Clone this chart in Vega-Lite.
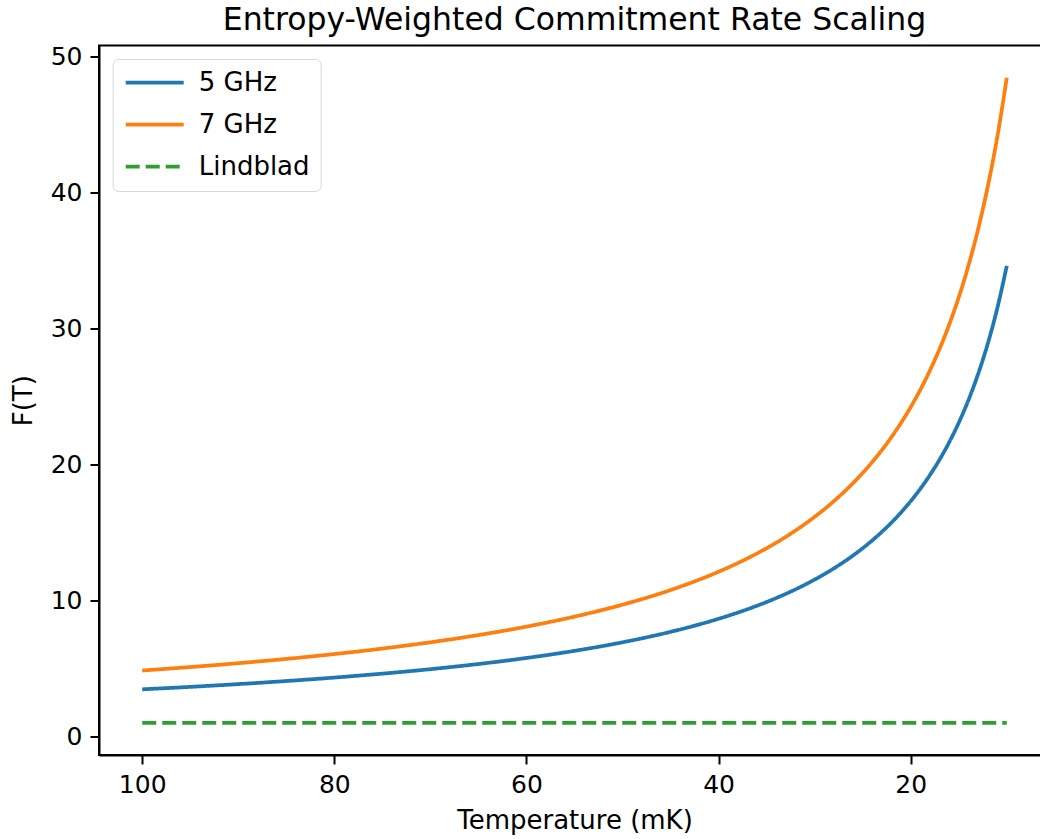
{
  "$schema": "https://vega.github.io/schema/vega-lite/v6.json",
  "autosize": "none",
  "padding": {"left": 99, "top": 45.5, "right": 0, "bottom": 84},
  "width": 951,
  "height": 709.5,
  "background": "white",
  "title": {"text": "Entropy-Weighted Commitment Rate Scaling", "fontSize": 31.5, "fontWeight": "normal", "font": "DejaVu Sans", "color": "black", "offset": 8.5, "anchor": "middle"},
  "config": {
    "view": {"stroke": "black", "strokeWidth": 2},
    "axis": {"grid": false, "domainColor": "black", "domainWidth": 2, "tickColor": "black", "tickWidth": 2, "tickSize": 9, "labelFontSize": 25, "labelFont": "DejaVu Sans", "labelColor": "black", "labelPadding": 8, "titleFontSize": 26, "titleFont": "DejaVu Sans", "titleFontWeight": "normal", "titleColor": "black"}
  },
  "data": {"values": [
    {"T": 100, "F": 3.462, "series": "5 GHz"},
    {"T": 95, "F": 3.644, "series": "5 GHz"},
    {"T": 90, "F": 3.847, "series": "5 GHz"},
    {"T": 85, "F": 4.073, "series": "5 GHz"},
    {"T": 80, "F": 4.327, "series": "5 GHz"},
    {"T": 75, "F": 4.616, "series": "5 GHz"},
    {"T": 70, "F": 4.946, "series": "5 GHz"},
    {"T": 65, "F": 5.326, "series": "5 GHz"},
    {"T": 60, "F": 5.770, "series": "5 GHz"},
    {"T": 55, "F": 6.294, "series": "5 GHz"},
    {"T": 50, "F": 6.924, "series": "5 GHz"},
    {"T": 45, "F": 7.693, "series": "5 GHz"},
    {"T": 40, "F": 8.655, "series": "5 GHz"},
    {"T": 37.5, "F": 9.232, "series": "5 GHz"},
    {"T": 35, "F": 9.891, "series": "5 GHz"},
    {"T": 32.5, "F": 10.652, "series": "5 GHz"},
    {"T": 30, "F": 11.540, "series": "5 GHz"},
    {"T": 28, "F": 12.364, "series": "5 GHz"},
    {"T": 26, "F": 13.315, "series": "5 GHz"},
    {"T": 24, "F": 14.425, "series": "5 GHz"},
    {"T": 22, "F": 15.736, "series": "5 GHz"},
    {"T": 20, "F": 17.310, "series": "5 GHz"},
    {"T": 19, "F": 18.221, "series": "5 GHz"},
    {"T": 18, "F": 19.233, "series": "5 GHz"},
    {"T": 17, "F": 20.364, "series": "5 GHz"},
    {"T": 16, "F": 21.637, "series": "5 GHz"},
    {"T": 15, "F": 23.079, "series": "5 GHz"},
    {"T": 14, "F": 24.728, "series": "5 GHz"},
    {"T": 13, "F": 26.630, "series": "5 GHz"},
    {"T": 12, "F": 28.849, "series": "5 GHz"},
    {"T": 11, "F": 31.472, "series": "5 GHz"},
    {"T": 10, "F": 34.619, "series": "5 GHz"},
    {"T": 100, "F": 4.847, "series": "7 GHz"},
    {"T": 95, "F": 5.102, "series": "7 GHz"},
    {"T": 90, "F": 5.385, "series": "7 GHz"},
    {"T": 85, "F": 5.702, "series": "7 GHz"},
    {"T": 80, "F": 6.058, "series": "7 GHz"},
    {"T": 75, "F": 6.462, "series": "7 GHz"},
    {"T": 70, "F": 6.924, "series": "7 GHz"},
    {"T": 65, "F": 7.456, "series": "7 GHz"},
    {"T": 60, "F": 8.078, "series": "7 GHz"},
    {"T": 55, "F": 8.812, "series": "7 GHz"},
    {"T": 50, "F": 9.693, "series": "7 GHz"},
    {"T": 45, "F": 10.770, "series": "7 GHz"},
    {"T": 40, "F": 12.117, "series": "7 GHz"},
    {"T": 37.5, "F": 12.925, "series": "7 GHz"},
    {"T": 35, "F": 13.848, "series": "7 GHz"},
    {"T": 32.5, "F": 14.913, "series": "7 GHz"},
    {"T": 30, "F": 16.156, "series": "7 GHz"},
    {"T": 28, "F": 17.310, "series": "7 GHz"},
    {"T": 26, "F": 18.641, "series": "7 GHz"},
    {"T": 24, "F": 20.195, "series": "7 GHz"},
    {"T": 22, "F": 22.030, "series": "7 GHz"},
    {"T": 20, "F": 24.234, "series": "7 GHz"},
    {"T": 19, "F": 25.509, "series": "7 GHz"},
    {"T": 18, "F": 26.926, "series": "7 GHz"},
    {"T": 17, "F": 28.510, "series": "7 GHz"},
    {"T": 16, "F": 30.292, "series": "7 GHz"},
    {"T": 15, "F": 32.311, "series": "7 GHz"},
    {"T": 14, "F": 34.619, "series": "7 GHz"},
    {"T": 13, "F": 37.282, "series": "7 GHz"},
    {"T": 12, "F": 40.389, "series": "7 GHz"},
    {"T": 11, "F": 44.061, "series": "7 GHz"},
    {"T": 10, "F": 48.467, "series": "7 GHz"},
    {"T": 100, "F": 1, "series": "Lindblad"},
    {"T": 10, "F": 1, "series": "Lindblad"}
  ]},
  "mark": {"type": "line", "strokeWidth": 3.75, "interpolate": "monotone", "clip": true},
  "encoding": {
    "x": {"field": "T", "type": "quantitative", "title": "Temperature (mK)", "scale": {"domain": [5.5, 104.5], "reverse": true, "nice": false, "zero": false}, "axis": {"values": [20, 40, 60, 80, 100], "titlePadding": 10}},
    "y": {"field": "F", "type": "quantitative", "title": "F(T)", "scale": {"domain": [-1.37, 50.84], "nice": false, "zero": false}, "axis": {"values": [0, 10, 20, 30, 40, 50], "titlePadding": 14}},
    "color": {"field": "series", "type": "nominal", "scale": {"domain": ["5 GHz", "7 GHz", "Lindblad"], "range": ["#1f77b4", "#ff7f0e", "#2ca02c"]}, "legend": {"title": null, "orient": "none", "legendX": 13.7, "legendY": 13.5, "symbolType": "stroke", "symbolSize": 3364, "symbolStrokeWidth": 3.75, "clipHeight": 25, "rowPadding": 15, "labelFontSize": 26, "labelFont": "DejaVu Sans", "labelColor": "black", "labelOffset": 13, "padding": 11, "fillColor": "white", "strokeColor": "#d6d6d6", "cornerRadius": 6}},
    "strokeDash": {"field": "series", "type": "nominal", "scale": {"domain": ["5 GHz", "7 GHz", "Lindblad"], "range": [[1, 0], [1, 0], [14, 6]]}, "legend": null}
  }
}
